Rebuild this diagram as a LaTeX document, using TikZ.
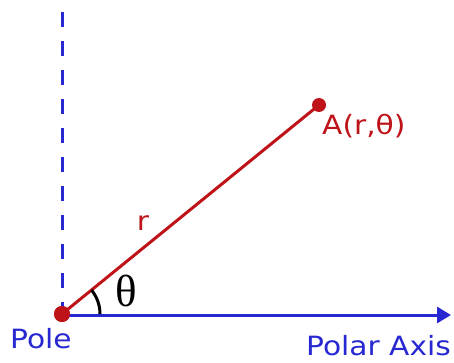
\documentclass[tikz,border=0pt]{standalone}
\usepackage{fontspec}
\setmainfont{DejaVu Sans}[FakeStretch=1.12]
\newfontfamily\thetafont{Liberation Serif}
\usetikzlibrary{arrows.meta}
\definecolor{axblue}{RGB}{40,40,210}
\definecolor{rred}{RGB}{190,20,25}
\begin{document}
\begin{tikzpicture}[x=1pt,y=-1pt,
  lbl/.style={inner sep=0pt,font=\fontsize{26.5}{30}\selectfont},
  ptdot/.style={circle,fill=rred,inner sep=0pt,minimum size=16pt}]
\useasboundingbox (0,0) rectangle (454,363);
\coordinate (top) at (62,12);
\node[ptdot] (O) at (62,314) {};
\node[ptdot,minimum size=14pt] (A) at (319,105) {};
\coordinate (axend) at (451,315);
\draw[axblue,line width=3pt,dash pattern=on 15pt off 14pt] (top) -- (O.center);
\draw[axblue,line width=3pt,-{Triangle[length=14pt,width=16pt]}] (62,315) -- (axend);
\draw[rred,line width=3pt] (O.center) -- (A.center);
\node[ptdot] at (O) {};
\draw[black,line width=3pt] ([shift={(0:38)}]O.center) arc[start angle=0,end angle=-39,radius=38];
\node[inner sep=0pt,anchor=base west,font=\fontsize{45}{48}\thetafont] (th) at (115,306) {θ};
\node[lbl,text=rred] (r) at (143,223) {r};
\node[lbl,text=rred,anchor=base west] (Alab) at (322,135) {A(r,θ)};
\node[lbl,text=axblue,anchor=base west] (pole) at (10,348) {Pole};
\node[lbl,text=axblue,anchor=base east] (axis) at (451,355) {Polar Axis};
\end{tikzpicture}
\end{document}
